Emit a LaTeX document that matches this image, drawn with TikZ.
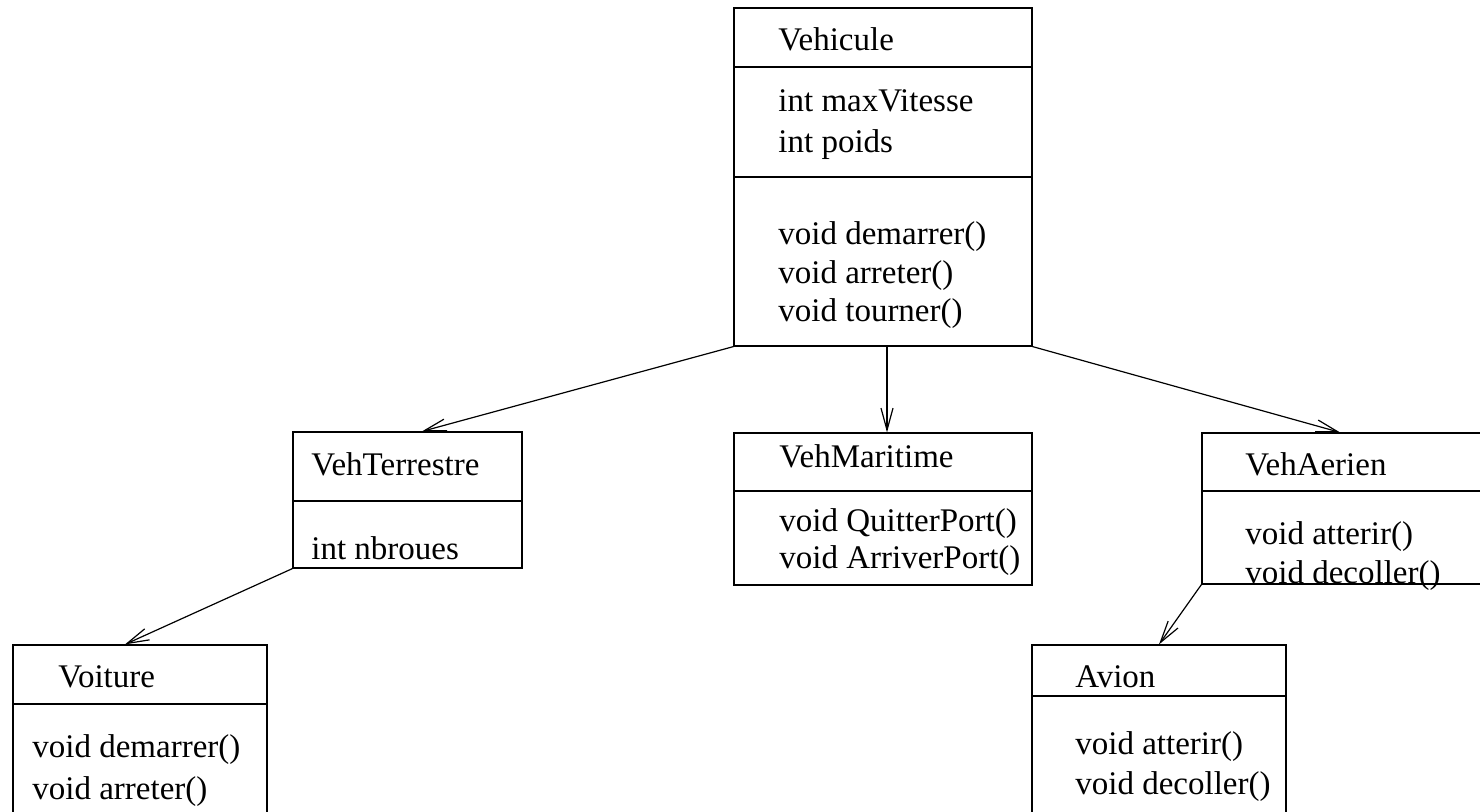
\documentclass[tikz,border=0pt]{standalone}
\usepackage{fontspec}
\setmainfont{Liberation Serif}
\usetikzlibrary{arrows.meta}

\tikzset{
  classbox/.style={draw, line width=0.6pt, inner sep=0pt},
  member/.style={anchor=base west, inner sep=0pt, font=\fontsize{16.5}{20}\selectfont},
  inherit/.style={-{Straight Barb[length=11pt,width=6pt]}, line width=0.6pt},
}

\begin{document}
\begin{tikzpicture}[x=0.5pt,y=-0.5pt]
  \useasboundingbox (0,0) rectangle (1480,812);

  % classes
  \node[classbox, minimum width=149pt, minimum height=169pt] (veh) at (883,177) {};
  \node[classbox, minimum width=114.5pt, minimum height=68pt] (terr) at (407.5,500) {};
  \node[classbox, minimum width=149pt, minimum height=76pt] (mari) at (883,509) {};
  \node[classbox, minimum width=145pt, minimum height=75.5pt] (aer) at (1347,508.5) {};
  \node[classbox, minimum width=127pt, minimum height=92.5pt] (avion) at (1159,737.5) {};
  \node[classbox, minimum width=127pt, minimum height=92.5pt] (voit) at (140,737.5) {};

  % compartments
  \draw[line width=0.6pt] (veh.west |- 0,67) -- (veh.east |- 0,67);
  \draw[line width=0.6pt] (veh.west |- 0,177) -- (veh.east |- 0,177);
  \draw[line width=0.6pt] (terr.west |- 0,501) -- (terr.east |- 0,501);
  \draw[line width=0.6pt] (mari.west |- 0,491) -- (mari.east |- 0,491);
  \draw[line width=0.6pt] (aer.west |- 0,491) -- (aer.east |- 0,491);
  \draw[line width=0.6pt] (avion.west |- 0,696) -- (avion.east |- 0,696);
  \draw[line width=0.6pt] (voit.west |- 0,704) -- (voit.east |- 0,704);

  % Vehicule
  \node[member] (veh-t) at (778,51) {Vehicule};
  \foreach \txt/\y [count=\i] in {int maxVitesse/112, int poids/153}
    \node[member] (veh-a\i) at (778,\y) {\txt};
  \foreach \txt/\y [count=\i] in {void demarrer()/245, void arreter()/284, void tourner()/322}
    \node[member] (veh-m\i) at (778,\y) {\txt};

  % VehTerrestre
  \node[member] (terr-t) at (311,476) {VehTerrestre};
  \node[member] (terr-a1) at (311,560) {int nbroues};

  % VehMaritime
  \node[member] (mari-t) at (779,468) {VehMaritime};
  \foreach \txt/\y [count=\i] in {void QuitterPort()/532, void ArriverPort()/569}
    \node[member] (mari-m\i) at (779,\y) {\txt};

  % VehAerien
  \node[member] (aer-t) at (1245,476) {VehAerien};
  \foreach \txt/\y [count=\i] in {void atterir()/545, void decoller()/584}
    \node[member] (aer-m\i) at (1245,\y) {\txt};

  % Avion
  \node[member] (avion-t) at (1075,688) {Avion};
  \foreach \txt/\y [count=\i] in {void atterir()/755, void decoller()/795}
    \node[member] (avion-m\i) at (1075,\y) {\txt};

  % Voiture
  \node[member] (voit-t) at (58,688) {Voiture};
  \foreach \txt/\y [count=\i] in {void demarrer()/758, void arreter()/799}
    \node[member] (voit-m\i) at (32,\y) {\txt};

  % inheritance
  \draw[inherit] (veh.south west) -- ([xshift=7.25pt]terr.north);
  \draw[inherit] ([xshift=2pt]veh.south) -- ([xshift=2pt]mari.north);
  \draw[inherit] (veh.south east) -- ([xshift=-3.5pt]aer.north);
  \draw[inherit] (terr.south west) -- ([xshift=-7.5pt]voit.north);
  \draw[inherit] (aer.south west) -- (avion.north);
\end{tikzpicture}
\end{document}
